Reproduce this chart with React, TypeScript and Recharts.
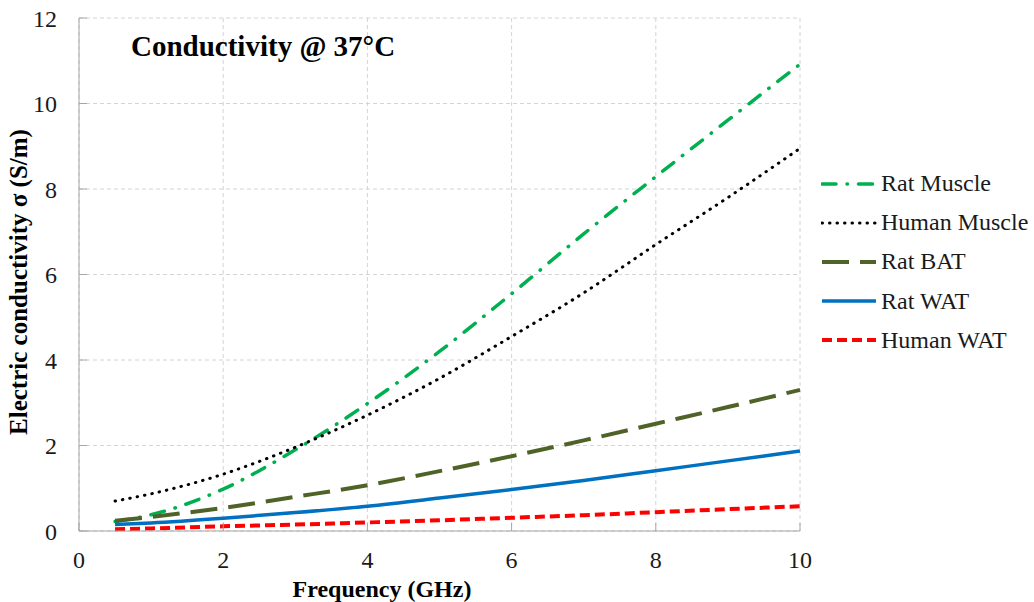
import React from 'react';
import { LineChart, Line, XAxis, YAxis, CartesianGrid, Legend } from 'recharts';

const frequency = [0.5, 1, 2, 3, 4, 5, 6, 7, 8, 9, 10];
const ratMuscle = [0.22, 0.38, 0.98, 1.9, 2.98, 4.2, 5.55, 6.95, 8.29, 9.61, 10.92];
const humanMuscle = [0.7, 0.87, 1.33, 1.96, 2.71, 3.57, 4.55, 5.57, 6.7, 7.8, 8.95];
const ratBAT = [0.24, 0.33, 0.54, 0.8, 1.07, 1.4, 1.75, 2.12, 2.51, 2.9, 3.3];
const ratWAT = [0.15, 0.19, 0.3, 0.43, 0.58, 0.77, 0.97, 1.18, 1.41, 1.64, 1.87];
const humanWAT = [0.04, 0.06, 0.11, 0.15, 0.2, 0.25, 0.31, 0.37, 0.44, 0.51, 0.58];

const xTicks = [0, 2, 4, 6, 8, 10];
const yTicks = [0, 2, 4, 6, 8, 10, 12];

const data = frequency.map((f, i) => ({
    f,
    ratMuscle: ratMuscle[i],
    humanMuscle: humanMuscle[i],
    ratBAT: ratBAT[i],
    ratWAT: ratWAT[i],
    humanWAT: humanWAT[i],
}));

const series = [
    { key: 'ratMuscle', name: 'Rat Muscle', color: '#00B050', width: 3.5, dash: '14 11 0.5 11', cap: 'round' },
    { key: 'humanMuscle', name: 'Human Muscle', color: '#000000', width: 3, dash: '0.5 7', cap: 'round' },
    { key: 'ratBAT', name: 'Rat BAT', color: '#4F6228', width: 4, dash: '27 11', cap: 'butt' },
    { key: 'ratWAT', name: 'Rat WAT', color: '#0070C0', width: 3.5, dash: undefined, cap: 'butt' },
    { key: 'humanWAT', name: 'Human WAT', color: '#FF0000', width: 4, dash: '10 5', cap: 'butt' },
];

const FONT = "'Liberation Serif', 'Times New Roman', serif";
const AXIS = '#a6a6a6';
const TEXT = '#1a1a1a';

const LeftTick = (props: any) => {
    const { x, y, payload } = props;
    return (
        <g>
            <line x1={x + 22} y1={y} x2={x + 30} y2={y} stroke={AXIS} strokeWidth={1} />
            <text x={x} y={y + 8.5} textAnchor="end" style={{ fontSize: 24, fontFamily: FONT, fill: TEXT }}>{payload.value}</text>
        </g>
    );
};

const BottomTick = (props: any) => {
    const { x, y, payload } = props;
    return (
        <g>
            <line x1={x} y1={y} x2={x} y2={y - 8} stroke={AXIS} strokeWidth={1} />
            <text x={x} y={y + 37} textAnchor="middle" style={{ fontSize: 24, fontFamily: FONT, fill: TEXT }}>{payload.value}</text>
        </g>
    );
};

const RightTick = (props: any) => {
    const { x, y } = props;
    return <line x1={x} y1={y} x2={x - 8} y2={y} stroke={AXIS} strokeWidth={1} />;
};

const TopTick = (props: any) => {
    const { x, y } = props;
    return <line x1={x} y1={y} x2={x} y2={y + 8} stroke={AXIS} strokeWidth={1} />;
};

const renderLegend = () => (
    <div style={{ fontFamily: FONT, fontSize: 24, color: TEXT, paddingLeft: 21, width: 234, boxSizing: 'border-box' }}>
        {series.map((s) => (
            <div key={s.key} style={{ display: 'flex', alignItems: 'center', height: 39.2, whiteSpace: 'nowrap' }}>
                <svg width={57} height={12} style={{ marginRight: 3, flex: 'none' }}>
                    <line x1={1} y1={6} x2={55} y2={6} stroke={s.color} strokeWidth={s.width}
                        strokeDasharray={s.dash} strokeLinecap={s.cap as any} />
                </svg>
                <span>{s.name}</span>
            </div>
        ))}
    </div>
);

const App: React.FC = () => {
    return (
        <div style={{ position: 'absolute', left: 0, top: 0, width: 1034, height: 602, background: '#fff', fontFamily: FONT, overflow: 'hidden' }}>
            <LineChart width={1034} height={602} data={data} margin={{ top: 18, right: 0, bottom: 0, left: 0 }}>
                <CartesianGrid strokeDasharray="4 3" stroke="#d4d4d4" />
                <XAxis type="number" dataKey="f" domain={[0, 10]} ticks={xTicks} tickSize={0} tickMargin={0}
                    stroke={AXIS} tick={<BottomTick />} height={71} />
                <XAxis xAxisId="top" orientation="top" type="number" domain={[0, 10]} ticks={xTicks} tickSize={0}
                    stroke={AXIS} tick={<TopTick />} height={0} />
                <YAxis type="number" domain={[0, 12]} ticks={yTicks} tickSize={0} tickMargin={22}
                    stroke={AXIS} tick={<LeftTick />} width={79} />
                <YAxis yAxisId="right" orientation="right" type="number" domain={[0, 12]} ticks={yTicks} tickSize={0}
                    stroke={AXIS} tick={<RightTick />} width={0} />
                <Legend content={renderLegend} layout="vertical" align="right" verticalAlign="top"
                    wrapperStyle={{ left: 800, top: 164, width: 234 }} />
                {series.map((s) => (
                    <Line key={s.key} type="monotone" dataKey={s.key} name={s.name} stroke={s.color}
                        strokeWidth={s.width} strokeDasharray={s.dash} strokeLinecap={s.cap as any}
                        dot={false} activeDot={false} isAnimationActive={false} />
                ))}
            </LineChart>
            <div style={{ position: 'absolute', left: 131, top: 30, fontSize: 29, fontWeight: 'bold', color: '#000', whiteSpace: 'nowrap' }}>
                Conductivity @ 37°C
            </div>
            <div style={{ position: 'absolute', left: 382, top: 577, lineHeight: '24px', transform: 'translateX(-50%)', fontSize: 24, fontWeight: 'bold', color: '#000', whiteSpace: 'nowrap' }}>
                Frequency (GHz)
            </div>
            <div style={{ position: 'absolute', left: 19, top: 282, transform: 'translate(-50%, -50%) rotate(-90deg)', fontSize: 25, fontWeight: 'bold', color: '#000', whiteSpace: 'nowrap' }}>
                Electric conductivity σ (S/m)
            </div>
        </div>
    );
};

export default App;
